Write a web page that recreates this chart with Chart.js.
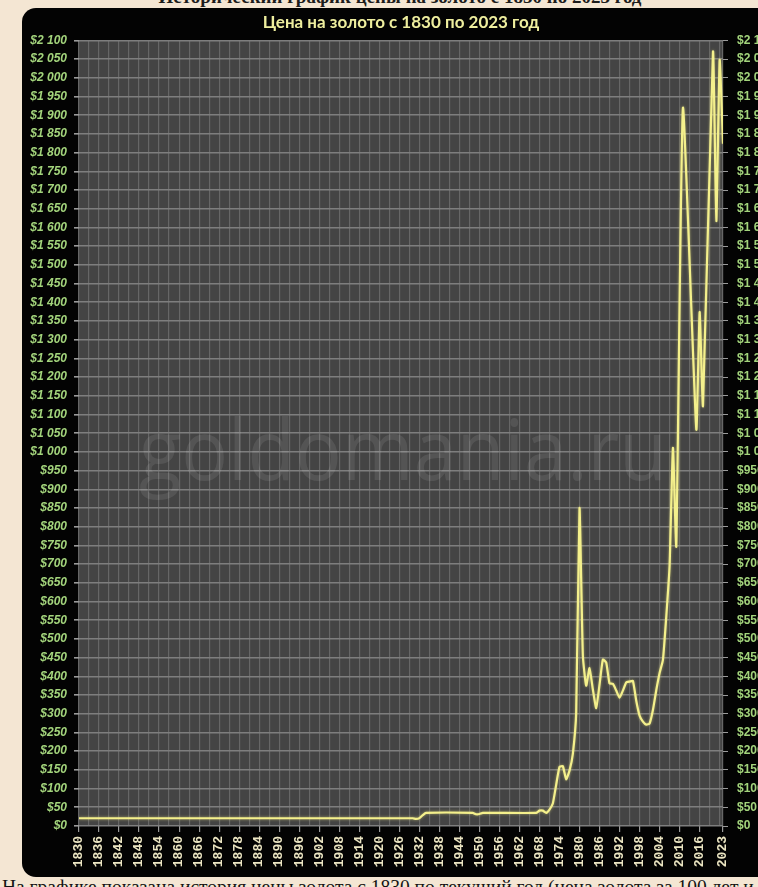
<!DOCTYPE html>
<html>
<head>
<meta charset="utf-8">
<script src="https://cdn.jsdelivr.net/npm/chart.js@4/dist/chart.umd.min.js"></script>
<style>
  html, body { margin: 0; padding: 0; width: 758px; height: 887px; overflow: hidden; background: #f4e6d3; }
  #head { position: absolute; left: 0; top: -13px; width: 800px; text-align: center; white-space: nowrap;
          font: bold 19px "Liberation Serif", serif; line-height: 19px; color: #1c1c1c; }
  #panel { position: absolute; left: 22px; top: 8px; width: 780px; height: 869px; background: #030303; border-radius: 14px; }
  #foot { position: absolute; left: 2px; top: 877px; white-space: nowrap;
          font: 19.5px "Liberation Serif", serif; line-height: 19px; color: #141414; }
  #chart { position: absolute; left: 0; top: 0; }
</style>
</head>
<body>
<div id="head">Исторический график цены на золото с 1830 по 2023 год</div>
<div id="panel"></div>
<div id="foot">На графике показана история цены золота с 1830 по текущий год (цена золота за 100 лет и более)</div>
<canvas id="chart" width="758" height="887"></canvas>
<script>
// Gold price, USD per troy ounce
const years = [1830, 1930, 1931, 1932, 1933, 1934, 1948, 1949, 1950, 1951, 1967, 1968, 1969, 1970,
  1971, 1972, 1973, 1974, 1975, 1976, 1977, 1978, 1979, 1980, 1981, 1982, 1983, 1984, 1985, 1986,
  1987, 1988, 1989, 1990, 1991, 1992, 1993, 1994, 1995, 1996, 1997, 1998, 1999, 2000, 2001, 2002,
  2003, 2004, 2005, 2006, 2007, 2008, 2009, 2011, 2015, 2016, 2017, 2020, 2021, 2022, 2023];
const prices = [20.67, 20.67, 19, 21, 29, 35, 35, 31.5, 32, 35, 35, 41, 41, 35,
  44, 60, 110, 158, 160, 125, 148, 193, 303, 850, 455, 375, 422, 365, 315, 378,
  445, 437, 381, 380, 362, 343, 362, 384, 386, 388, 335, 295, 279, 271, 274, 310,
  363, 409, 444, 560, 697, 1011, 748, 1920, 1060, 1374, 1123, 2070, 1617, 2048, 1824];

// Year labels shown under the axis
const labelYears = [1830, 1836, 1842, 1848, 1854, 1860, 1866, 1872, 1878, 1884, 1890, 1896,
  1902, 1908, 1914, 1920, 1926, 1932, 1938, 1944, 1950, 1956, 1962, 1968, 1974, 1980, 1986,
  1992, 1998, 2004, 2010, 2016, 2023];

const TITLE = 'Цена на золото с 1830 по 2023 год';
const WATERMARK = 'goldomania.ru';
const X_MIN = 1830, X_MAX = 2023, X_GRID_STEP = 3;
const Y_MIN = 0, Y_MAX = 2100, Y_STEP = 50;

const GREEN = '#a3d47c';
const TICK_GRAY = '#9a9a9a';

function money(v) {
  if (v >= 1000) {
    return '$' + Math.floor(v / 1000) + ' ' + String(v % 1000).padStart(3, '0');
  }
  return '$' + v;
}

function xGridTicks() {
  const t = [];
  for (let y = X_MIN; y < X_MAX; y += X_GRID_STEP) t.push({ value: y });
  t.push({ value: X_MAX });
  return t;
}
function yTicks() {
  const t = [];
  for (let v = Y_MIN; v <= Y_MAX; v += Y_STEP) t.push({ value: v });
  return t;
}

// dark plot background
const plotBackground = {
  id: 'plotBackground',
  beforeDraw(chart) {
    const { ctx, chartArea: a } = chart;
    ctx.save();
    ctx.fillStyle = '#444444';
    ctx.fillRect(a.left, a.top, a.right - a.left, a.bottom - a.top);
    ctx.restore();
  }
};

// faint site name across the plot
const watermark = {
  id: 'watermark',
  beforeDatasetsDraw(chart) {
    const { ctx, chartArea: a } = chart;
    ctx.save();
    ctx.font = '84px "Open Sans", sans-serif';
    const w = ctx.measureText(WATERMARK).width;
    ctx.translate((a.left + a.right) / 2 + 2, 480);
    ctx.scale(528 / w, 1);
    ctx.textAlign = 'center';
    ctx.textBaseline = 'alphabetic';
    ctx.fillStyle = 'rgba(255,255,255,0.09)';
    ctx.fillText(WATERMARK, 0, 0);
    ctx.restore();
  }
};

// soft glow on the price line
const lineGlow = {
  id: 'lineGlow',
  beforeDatasetDraw(chart) {
    const ctx = chart.ctx;
    ctx.save();
    ctx.shadowColor = 'rgba(245,240,130,0.55)';
    ctx.shadowBlur = 3;
  },
  afterDatasetDraw(chart) {
    chart.ctx.restore();
  }
};

new Chart(document.getElementById('chart'), {
  type: 'line',
  data: {
    datasets: [{
      label: TITLE,
      data: years.map((y, i) => ({ x: y, y: prices[i] })),
      borderColor: '#f4f08c',
      borderWidth: 2.2,
      pointRadius: 0,
      fill: false,
      tension: 0.15
    }]
  },
  options: {
    responsive: false,
    devicePixelRatio: 1,
    animation: false,
    layout: { padding: 0 },
    plugins: {
      legend: { display: false },
      tooltip: { enabled: false },
      title: {
        display: true,
        text: TITLE,
        fullSize: false,
        color: '#eeee9e',
        font: { family: 'Lato, "Open Sans", sans-serif', weight: 'bold', size: 17 },
        padding: { top: 12, bottom: 8 }
      }
    },
    scales: {
      x: {
        type: 'linear',
        min: X_MIN,
        max: X_MAX,
        afterBuildTicks(axis) { axis.ticks = xGridTicks(); },
        afterFit(axis) { axis.height = 61; },
        border: { display: false },
        grid: {
          color: '#666666',
          lineWidth: 1.2,
          tickLength: 6,
          tickWidth: 1.2,
          tickColor: (c) => (c.tick && labelYears.includes(c.tick.value)) ? TICK_GRAY : 'rgba(0,0,0,0)'
        },
        ticks: {
          autoSkip: false,
          minRotation: 90,
          maxRotation: 90,
          padding: 4,
          color: '#ebe5c2',
          font: { family: '"Liberation Mono", "Courier New", monospace', weight: 'bold', size: 13 },
          callback: (v) => labelYears.includes(v) ? String(v) : ''
        }
      },
      y: {
        type: 'linear',
        position: 'left',
        min: Y_MIN,
        max: Y_MAX,
        afterBuildTicks(axis) { axis.ticks = yTicks(); },
        afterFit(axis) { axis.width = 79; },
        border: { display: false },
        grid: { color: '#7e7e7e', lineWidth: 1.6, tickLength: 5, tickColor: TICK_GRAY },
        ticks: {
          padding: 7,
          color: GREEN,
          font: { family: '"Liberation Sans", Arial, sans-serif', weight: 'bold', style: 'italic', size: 12 },
          callback: (v) => money(v)
        }
      },
      y2: {
        type: 'linear',
        position: 'right',
        min: Y_MIN,
        max: Y_MAX,
        afterBuildTicks(axis) { axis.ticks = yTicks(); },
        afterFit(axis) { axis.width = 35; },
        border: { display: false },
        grid: { drawOnChartArea: false, tickLength: 5, tickColor: TICK_GRAY },
        ticks: {
          padding: 9,
          color: GREEN,
          font: { family: '"Liberation Sans", Arial, sans-serif', weight: 'bold', size: 12 },
          callback: (v) => money(v)
        }
      }
    }
  },
  plugins: [plotBackground, watermark, lineGlow]
});
</script>
</body>
</html>
